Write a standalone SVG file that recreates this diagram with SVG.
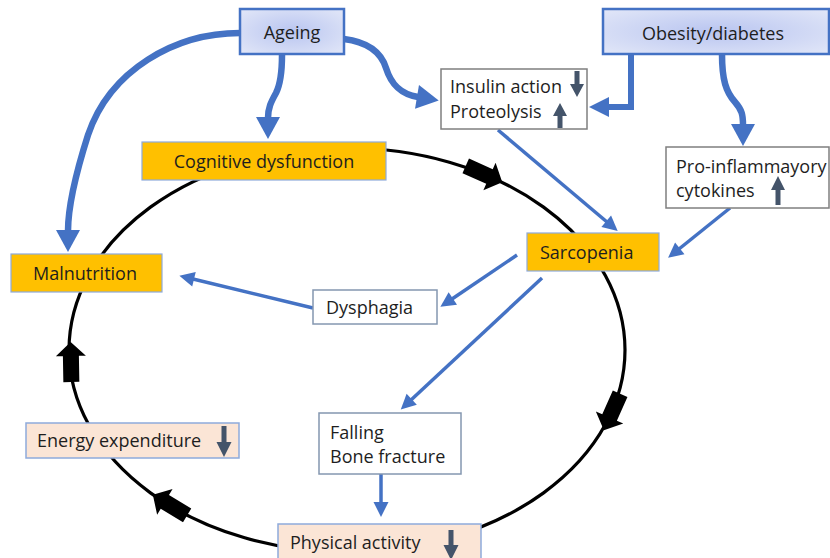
<svg xmlns="http://www.w3.org/2000/svg" xmlns:xlink="http://www.w3.org/1999/xlink" width="830" height="558" viewBox="0 0 830 558">
<defs>
<radialGradient id="gblue" cx="0.5" cy="0.5" r="0.7">
<stop offset="0" stop-color="#b9c5f0"/>
<stop offset="1" stop-color="#e2e7f8"/>
</radialGradient>
<marker id="bh" markerUnits="userSpaceOnUse" markerWidth="24" markerHeight="26" refX="1" refY="12" orient="auto" overflow="visible">
<path d="M0,0 L22,12 L0,24 z" fill="#4472c4"/>
</marker>
<marker id="mh" markerUnits="userSpaceOnUse" markerWidth="20" markerHeight="22" refX="1" refY="10" orient="auto" overflow="visible">
<path d="M0,0 L20,10 L0,20 z" fill="#4472c4"/>
</marker>
<marker id="sh" markerUnits="userSpaceOnUse" markerWidth="16" markerHeight="16" refX="1" refY="7.5" orient="auto" overflow="visible">
<path d="M0,0 L15,7.5 L0,15 z" fill="#4472c4"/>
</marker>
<polygon id="blk" points="-20,-8 6,-8 6,-15 20,0 6,15 6,8 -20,8"/>
</defs>
<style>
text{font-family:"Open Sans","Noto Sans","Liberation Sans",sans-serif;font-size:18px;fill:#1e1e1e}
.cyc{fill:none;stroke:#000;stroke-width:3.2}
.thick{fill:none;stroke:#4472c4;stroke-width:6.5;marker-end:url(#bh)}
.med{fill:none;stroke:#4472c4;stroke-width:6;marker-end:url(#mh)}
.thin{fill:none;stroke:#4472c4;stroke-width:3.5;marker-end:url(#sh)}
.ind{fill:#44546a}
.src{fill:url(#gblue);stroke:#4472c4;stroke-width:2.5}
.org{fill:#ffc000;stroke:#8eaadb;stroke-width:1.2}
.pch{fill:#fbe5d6;stroke:#8eaadb;stroke-width:1.5}
.wht{fill:#fff;stroke:#7f7f7f;stroke-width:1.5}
.wht2{fill:#fff;stroke:#8497b0;stroke-width:1.5}
</style>
<rect width="830" height="558" fill="#fff"/>
<g id="connectors">
<ellipse class="cyc" cx="347" cy="350" rx="278" ry="202"/>
<use xlink:href="#blk" href="#blk" transform="translate(484,174) rotate(24)"/>
<use xlink:href="#blk" href="#blk" transform="translate(612,412) rotate(114)"/>
<use xlink:href="#blk" href="#blk" transform="translate(170,505) rotate(211)"/>
<use xlink:href="#blk" href="#blk" transform="translate(71,362) rotate(-91)"/>
<path class="thick" d="M240,33 C175,33 110,70 88,135 C81,157 68,200 68,231"/>
<path class="thick" d="M282,55 C282,75 280,85 276,93 C271,102 268,108 268,118"/>
<path class="thick" d="M344,39 C368,42 381,52 386,68 C391,84 400,94 418,97"/>
<path class="med" d="M631,54 L631,107 L608,107"/>
<path class="thick" d="M722,54 C722,80 726,92 735,102 C742,110 743,115 743,125"/>
<path class="thin" d="M498,130 L607,222"/>
<path class="thin" d="M730,208 L679,249"/>
<path class="thin" d="M517,255 L452,299"/>
<path class="thin" d="M542,278 L411,400"/>
<path class="thin" d="M313,308 L193,279"/>
<path class="thin" d="M381,474 L381,503"/>
</g>
<g id="ageing">
<rect class="src" x="240" y="9" width="104" height="45"/>
<text x="292" y="39" text-anchor="middle">Ageing</text>
</g>
<g id="obesity">
<rect class="src" x="603" y="9" width="226" height="45"/>
<text x="713" y="40" text-anchor="middle">Obesity/diabetes</text>
</g>
<g id="insulin">
<rect class="wht" x="441" y="69" width="146" height="60"/>
<text x="450" y="93">Insulin action</text>
<text x="450" y="118">Proteolysis</text>
<polygon class="ind" points="574.5,71 579.5,71 579.5,84 584,84 577,97 570,84 574.5,84"/>
<polygon class="ind" points="557.5,128 562.5,128 562.5,116 567,116 560,103 553,116 557.5,116"/>
</g>
<g id="cytokines">
<rect class="wht" x="666" y="147" width="163" height="61"/>
<text x="676" y="173">Pro-inflammayory</text>
<text x="676" y="197">cytokines</text>
<polygon class="ind" points="775.5,205 780.5,205 780.5,190 785,190 778,176 771,190 775.5,190"/>
</g>
<g id="cognitive">
<rect class="org" x="142" y="142" width="244" height="38"/>
<text x="264" y="168" text-anchor="middle">Cognitive dysfunction</text>
</g>
<g id="sarcopenia">
<rect class="org" x="527" y="233" width="132" height="38"/>
<text x="540" y="259">Sarcopenia</text>
</g>
<g id="malnutrition">
<rect class="org" x="11" y="254" width="151" height="38"/>
<text x="85" y="280" text-anchor="middle">Malnutrition</text>
</g>
<g id="dysphagia">
<rect class="wht2" x="313" y="290" width="124" height="34"/>
<text x="326" y="314">Dysphagia</text>
</g>
<g id="falling">
<rect class="wht2" x="319" y="413" width="142" height="61"/>
<text x="330" y="439">Falling</text>
<text x="330" y="463">Bone fracture</text>
</g>
<g id="energy">
<rect class="pch" x="26" y="423" width="213" height="35"/>
<text x="37" y="447">Energy expenditure</text>
<polygon class="ind" points="221.5,426 226.5,426 226.5,442 231.5,442 224,457 216.5,442 221.5,442"/>
</g>
<g id="physical">
<rect class="pch" x="278" y="524" width="203" height="40"/>
<text x="290" y="549">Physical activity</text>
<polygon class="ind" points="448.5,530 453.5,530 453.5,545 458.5,545 451,560 443.5,545 448.5,545"/>
</g>
</svg>
